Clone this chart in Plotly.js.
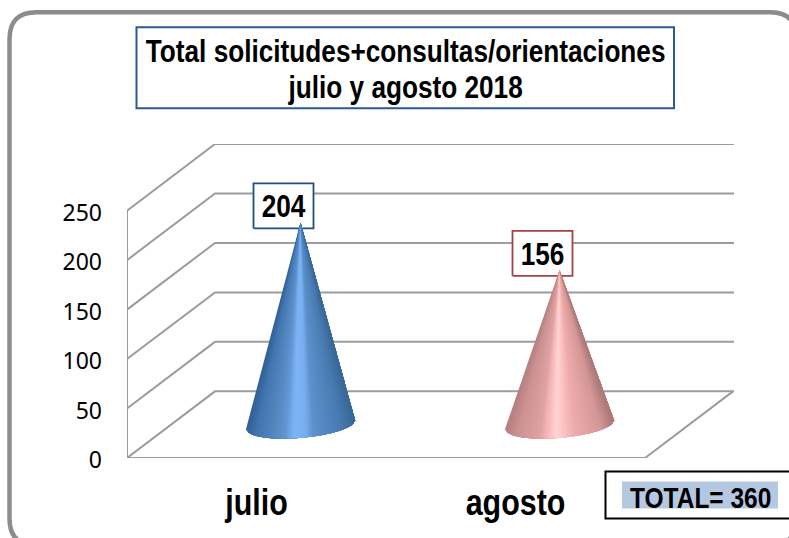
<!DOCTYPE html>
<html>
<head>
<meta charset="utf-8">
<script src="https://cdn.plot.ly/plotly-3.0.1.min.js"></script>
<style>html,body{margin:0;padding:0;background:#fff;overflow:hidden}</style>
</head>
<body>
<div id="chart" style="width:789px;height:538px"></div>
<script>
const categories = ['julio', 'agosto'];
const values = [204, 156];
const yTicks = [0, 50, 100, 150, 200, 250];
const titleLines = ['Total solicitudes+consultas/orientaciones', 'julio y agosto 2018'];
const totalLabel = 'TOTAL= 360';
const labelBorders = ['#1f4e8c', '#a04444'];
const ramps = [
  [[0,'#305f96'],[0.10,'#4477b0'],[0.30,'#5a8cc6'],[0.36,'#6297d4'],[0.44,'#7db4f8'],[0.55,'#78aef0'],[0.62,'#5c91cc'],[0.88,'#477ab0'],[1,'#376694']],
  [[0,'#b57f7f'],[0.10,'#cb9090'],[0.32,'#e0a2a2'],[0.38,'#f4b6b6'],[0.47,'#ffd4d4'],[0.56,'#fbbcbc'],[0.64,'#eeacac'],[0.88,'#d49696'],[1,'#aa7777']]
];

const L = 127, R = 734, T = 144.3, B = 458.5;
const catPx = 259;           // px per category
const yPx = 247.5 / 250;     // px per value unit
const dx = 88 / catPx, dy = 66.7 / yPx;   // 3D depth offset in data units
const xMax = (R - L) / catPx, yMax = (B - T) / yPx;
const grey = '#9c9c9c';

const hex = c => [1,3,5].map(i => parseInt(c.substr(i,2),16));
function rampColor(r, f) {
  for (let i = 1; i < r.length; i++) if (f <= r[i][0]) {
    const k = (f - r[i-1][0]) / (r[i][0] - r[i-1][0]);
    const a = hex(r[i-1][1]), b = hex(r[i][1]);
    return 'rgb(' + a.map((v,j) => Math.round(v + (b[j]-v)*k)).join(',') + ')';
  }
  return r[r.length-1][1];
}

const traces = [];
function line(x, y, w) {
  traces.push({type:'scatter', mode:'lines', x, y, cliponaxis:false, hoverinfo:'skip', showlegend:false,
    line:{color:grey, width:w || 2, simplify:false}});
}
yTicks.forEach(v => line([0, dx, xMax], [v, v+dy, v+dy]));
line([0, 0], [0, 250]);
line([0, 2, 2+dx], [0, 0, dy]);

// label boxes go below the cones, their text above
const boxW = 60 / catPx, boxH = 45 / yPx;
const boxOffX = -17 / catPx, boxOffY = 17 / yPx;
categories.forEach((c, i) => {
  const ax = i + 0.5 + dx/2, ay = values[i] + dy/2;
  const cx = ax + boxOffX, cy = ay + boxOffY;
  traces.push({type:'scatter', mode:'lines', fill:'toself', fillcolor:'#ffffff', cliponaxis:false, hoverinfo:'skip', showlegend:false,
    x:[cx-boxW/2, cx+boxW/2, cx+boxW/2, cx-boxW/2, cx-boxW/2],
    y:[cy-boxH/2, cy-boxH/2, cy+boxH/2, cy+boxH/2, cy-boxH/2],
    line:{color:labelBorders[i], width:1.8}});
});

// cones: overlapping layers from the apex, painted left to right across the base
const halfW = 54.5 / catPx, baseB = 13.2 / yPx, tilt = 4.5 / yPx, N = 54;
categories.forEach((c, i) => {
  const ax = i + 0.5 + dx/2, ay = values[i] + dy/2, by = dy/2;
  const pt = f => {
    const u = 2*f - 1;                       // -1 .. 1 across the base
    return [ax + halfW*u, by + tilt*u - baseB*Math.sqrt(Math.max(0, 1-u*u))];
  };
  for (let s = 0; s < N; s++) {
    const xs = [ax], ys = [ay];
    for (let k = s; k <= N; k++) {
      const p = pt(k / N);
      xs.push(p[0]); ys.push(p[1]);
    }
    xs.push(ax); ys.push(ay);
    const col = rampColor(ramps[i], (s+0.5)/N);
    traces.push({type:'scatter', mode:'lines', x:xs, y:ys, fill:'toself', fillcolor:col, cliponaxis:false,
      hoverinfo:'skip', showlegend:false, line:{color:col, width:0}});
  }
});

// value labels
const sans = 'Liberation Sans, Arial, sans-serif';
categories.forEach((c, i) => {
  traces.push({type:'scatter', mode:'text', cliponaxis:false, hoverinfo:'skip', showlegend:false,
    x:[i + 0.5 + dx/2 + boxOffX], y:[values[i] + dy/2 + boxOffY - 3.5/yPx],
    text:[String(values[i])], textposition:'middle center',
    textfont:{family:sans, size:31, color:'#000', weight:'bold'}});
});

const W = 789, H = 538;
const px = x => (x - L) / (R - L), py = y => (B - y) / (B - T);
function rect(x0, y0, x1, y1, lineCol, lw, fill) {
  return {type:'rect', xref:'paper', yref:'paper', x0:px(x0), x1:px(x1), y0:py(y0), y1:py(y1),
    line:{color:lineCol, width:lw}, fillcolor:fill || 'rgba(0,0,0,0)', layer:'above'};
}
// outer rounded frame (runs off the right and bottom of the picture)
const fL = 9.5, fT = 12.5, fR = 797, fB = 546, r = 27;
const framePath = 'M ' + px(fL) + ',' + py(fT + r) +
  ' Q ' + px(fL) + ',' + py(fT) + ' ' + px(fL + r) + ',' + py(fT) +
  ' L ' + px(fR - r) + ',' + py(fT) +
  ' Q ' + px(fR) + ',' + py(fT) + ' ' + px(fR) + ',' + py(fT + r) +
  ' L ' + px(fR) + ',' + py(fB - r) +
  ' Q ' + px(fR) + ',' + py(fB) + ' ' + px(fR - r) + ',' + py(fB) +
  ' L ' + px(fL + r) + ',' + py(fB) +
  ' Q ' + px(fL) + ',' + py(fB) + ' ' + px(fL) + ',' + py(fB - r) + ' Z';

const layout = {
  width: W, height: H, autosize: false, showlegend: false,
  paper_bgcolor: '#ffffff', plot_bgcolor: 'rgba(0,0,0,0)',
  margin: {l: L, r: W - R, t: T, b: H - B, pad: 0},
  xaxis: {range: [0, xMax], tickmode: 'array', tickvals: [0.5, 1.5], ticktext: categories,
    showgrid: false, zeroline: false, showline: false, ticks: '', ticklabelstandoff: 20,
    tickfont: {family: sans, size: 36, color: '#000', weight: 'bold'}},
  yaxis: {range: [0, yMax], tickmode: 'array', tickvals: yTicks, ticktext: yTicks.map(String),
    showgrid: false, zeroline: false, showline: false, ticks: '', ticklabelstandoff: 24, ticklabelshift: 2,
    tickfont: {family: 'Noto Sans, sans-serif', size: 23, color: '#000'}},
  shapes: [
    {type:'path', xref:'paper', yref:'paper', path:framePath, line:{color:'#8c8c8c', width:4.5}, layer:'below'},
    rect(136.5, 27.5, 674, 108.5, '#2a5a94', 2, '#ffffff'),
    rect(605.5, 472, 800, 519, '#000000', 2, '#ffffff'),
    rect(622, 482, 778, 509, 'rgba(0,0,0,0)', 0, '#b5c8e2')
  ],
  annotations: [
    {xref:'paper', yref:'paper', x:px(405), y:py(52), xanchor:'center', yanchor:'middle', showarrow:false,
      text: titleLines[0], font:{family:sans, size:31, color:'#000', weight:'bold'}},
    {xref:'paper', yref:'paper', x:px(405), y:py(88), xanchor:'center', yanchor:'middle', showarrow:false,
      text: titleLines[1], font:{family:sans, size:31, color:'#000', weight:'bold'}},
    {xref:'paper', yref:'paper', x:px(700), y:py(499), xanchor:'center', yanchor:'middle', showarrow:false,
      text: totalLabel, font:{family:sans, size:29, color:'#000', weight:'bold'}}
  ]
};
const narrowFactor = 0.845;
Plotly.newPlot('chart', traces, layout, {displayModeBar:false, staticPlot:true}).then(gd => {
  // reference type is a narrow bold face: condense the real text in place
  gd.querySelectorAll('.xtick text, .textpoint text').forEach(t => {
    t.setAttribute('textLength', t.getComputedTextLength() * narrowFactor);
    t.setAttribute('lengthAdjust', 'spacingAndGlyphs');
  });
  gd.querySelectorAll('text.annotation-text').forEach(t => {
    t.style.transformBox = 'fill-box';
    t.style.transformOrigin = 'center';
    t.style.transform = 'scaleX(' + narrowFactor + ')';
  });
});
</script>
</body>
</html>
